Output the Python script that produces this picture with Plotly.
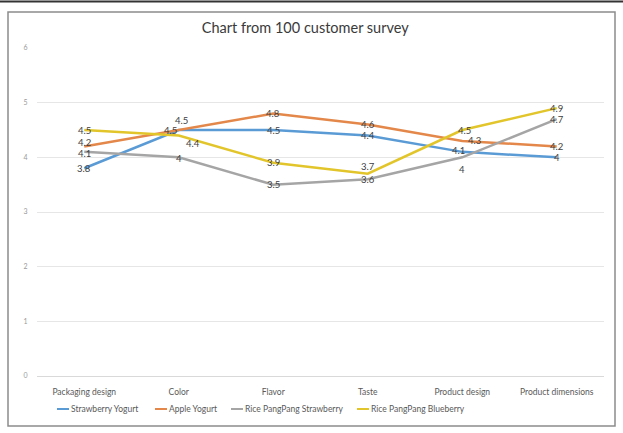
import plotly.graph_objects as go

# Survey scores per product attribute
categories = ["Packaging design", "Color", "Flavor", "Taste", "Product design", "Product dimensions"]
series_names = ["Strawberry Yogurt", "Apple Yogurt", "Rice PangPang Strawberry", "Rice PangPang Blueberry"]
strawberry_yogurt = [3.8, 4.5, 4.5, 4.4, 4.1, 4.0]
apple_yogurt = [4.2, 4.5, 4.8, 4.6, 4.3, 4.2]
rice_strawberry = [4.1, 4.0, 3.5, 3.6, 4.0, 4.7]
rice_blueberry = [4.5, 4.4, 3.9, 3.7, 4.5, 4.9]
y_ticks = [0, 1, 2, 3, 4, 5, 6]

series_values = [strawberry_yogurt, apple_yogurt, rice_strawberry, rice_blueberry]
colors = ["#5B9BD5", "#E3884A", "#A5A5A5", "#E2C52A"]

# pixel nudges (dx, dy; +dy = up) for value labels that would collide
label_shift = [
    [(0, 0), (-8, 0), (0, 0), (0, 0), (-4, 1), (0, 0)],
    [(0, 4), (3, 10), (0, 0), (0, 0), (12, 0), (0, 0)],
    [(0, -2), (0, -1), (0, 0), (0, 0), (0, -12), (0, 0)],
    [(0, 0), (14, -8), (0, 0), (0, 7), (2, 0), (0, 0)],
]

W, H = 623, 433
L, R, T, B = 37, 604, 48, 376  # plot area in pixels


def px_x(p):
    return (p - L) / (R - L)


def px_y(p):
    return (B - p) / (B - T)


fig = go.Figure()
annotations = []
for name, vals, col, shifts in zip(series_names, series_values, colors, label_shift):
    fig.add_trace(go.Scatter(
        x=categories, y=vals, name=name, mode="lines",
        line=dict(color=col, width=2.5), showlegend=False,
    ))
    for cat, v, (dx, dy) in zip(categories, vals, shifts):
        annotations.append(dict(
            x=cat, y=v, xref="x", yref="y", text=f"{v:g}", showarrow=False,
            xanchor="center", yanchor="middle", xshift=dx, yshift=dy,
            font=dict(family="Lato", size=9.5, color="#404040"),
        ))

# chart frame and top rule
shapes = [
    dict(type="rect", xref="paper", yref="paper",
         x0=px_x(8), x1=px_x(615), y0=px_y(426), y1=px_y(12),
         line=dict(color="#8c8c8c", width=1.5), layer="below"),
    dict(type="line", xref="paper", yref="paper",
         x0=px_x(0), x1=px_x(623), y0=px_y(1.5), y1=px_y(1.5),
         line=dict(color="#333333", width=2)),
]

# legend drawn beneath the axis
legend_x = [57, 155, 231, 357]
legend_y = 409
for name, col, lx in zip(series_names, colors, legend_x):
    shapes.append(dict(type="line", xref="paper", yref="paper",
                       x0=px_x(lx), x1=px_x(lx + 12), y0=px_y(legend_y), y1=px_y(legend_y),
                       line=dict(color=col, width=2)))
    annotations.append(dict(xref="paper", yref="paper", x=px_x(lx + 12), y=px_y(legend_y),
                            text=name, showarrow=False, xanchor="left", yanchor="middle",
                            font=dict(family="Lato", size=8.5, color="#595959")))

fig.update_layout(
    width=W, height=H, autosize=False,
    margin=dict(l=L, r=W - R, t=T, b=H - B),
    paper_bgcolor="white", plot_bgcolor="white",
    title=dict(text="Chart from 100 customer survey", x=0.49, xanchor="center",
               y=(H - 28) / H, yanchor="middle",
               font=dict(family="Lato", size=14.5, color="#3a3a3a")),
    xaxis=dict(type="category", range=[-0.5, 5.5], showgrid=False, zeroline=False,
               showline=False, ticks="outside", ticklen=8, tickcolor="rgba(0,0,0,0)",
               tickfont=dict(family="Lato", size=8.5, color="#595959")),
    yaxis=dict(range=[0, 6], tickvals=y_ticks, showgrid=True, gridcolor="#e6e6e6",
               gridwidth=1, zeroline=True, zerolinecolor="#d9d9d9", zerolinewidth=1,
               showline=False, ticks="outside", ticklen=7, tickcolor="rgba(0,0,0,0)",
               tickfont=dict(family="Lato", size=7, color="#9a9a9a")),
    shapes=shapes, annotations=annotations,
    font=dict(family="Lato"),
)

fig.write_html("out.html")
